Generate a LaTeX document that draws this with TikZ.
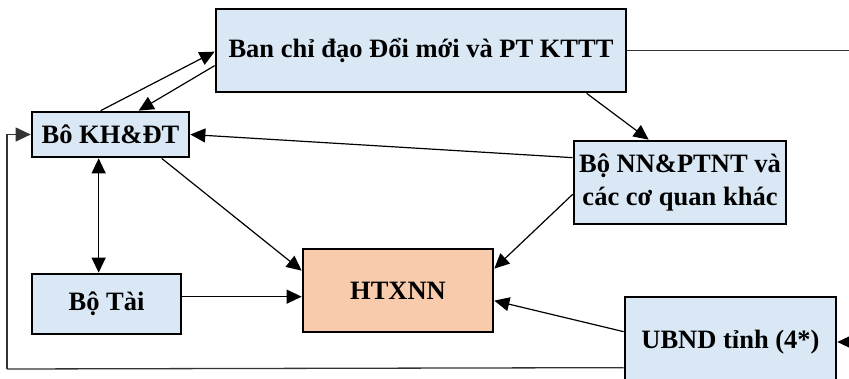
\documentclass[tikz,border=0pt]{standalone}
\usepackage{fontspec}
\setmainfont{Liberation Serif}
\usetikzlibrary{arrows.meta,calc}
\definecolor{boxblue}{RGB}{218,232,246}
\definecolor{boxpeach}{RGB}{248,203,173}
\begin{document}
\begin{tikzpicture}[x=1pt,y=-1pt,
  box/.style={draw=black,line width=2.7pt,fill=boxblue,inner sep=0pt,align=center,
    font=\fontsize{26.5}{33}\selectfont\bfseries},
  tip/.style={Triangle[length=15pt,width=14pt]},
  conn/.style={line width=1.2pt,-{Triangle[length=15pt,width=14pt]}},
  plain/.style={line width=1.3pt,draw=black!80}]
\useasboundingbox (0,0) rectangle (849,378);
\clip (0,0) rectangle (849,378);
\node[box,minimum width=410pt,minimum height=83pt] (ban) at (421,50.5) {Ban chỉ đạo Đổi mới và PT KTTT};
\node[box,minimum width=157pt,minimum height=45pt] (kh) at (110.5,134.5) {Bô KH\&ĐT};
\node[box,minimum width=212pt,minimum height=83pt] (nn) at (680,182.5) {Bộ NN\&PTNT và\\các cơ quan khác};
\node[box,fill=boxpeach,minimum width=190pt,minimum height=83pt] (htx) at (398,290.5) {HTXNN};
\node[box,minimum width=149pt,minimum height=60pt] (tai) at (106.5,304) {Bộ Tài};
\node[box,minimum width=211pt,minimum height=90pt] (ubnd) at (730.5,342) {UBND tỉnh (4*)};
\coordinate (rtop) at (880,50.5);
\coordinate (rbot) at (880,342);
\coordinate (lbot) at (7,369);
% connectors
\draw[conn] ($(kh.north west)+(70,0)$) -- ($(ban.north west)+(0,44)$);
\draw[conn] ($(ban.north west)+(0,58)$) -- ($(kh.north west)+(108,0)$);
\draw[conn] ($(nn.north west)+(0,18)$) -- (kh.east);
\draw[conn] ($(ban.south west)+(372,0)$) -- ($(nn.north west)+(76,0)$);
\draw[conn] ($(kh.south west)+(131,0)$) -- ($(htx.north west)+(0,23)$);
\draw[conn,{Triangle[length=15pt,width=14pt]}-{Triangle[length=15pt,width=14pt]}] ($(kh.south west)+(68,0)$) -- ($(tai.north west)+(68,0)$);
\draw[conn] ($(tai.north east)+(0,24)$) -- ($(htx.north west)+(0,49)$);
\draw[conn] ($(nn.south west)+(0,-31)$) -- ($(htx.north east)+(0,21)$);
\draw[conn] ($(ubnd.north west)+(0,36)$) -- ($(htx.north east)+(0,53)$);
\draw[plain] (ban.east) -- (rtop) -- (rbot);
\draw[conn] (rbot) -- (ubnd.east);
\draw[plain] ($(ubnd.north west)+(0,72)$) -- (lbot);
\draw[conn,draw=black!80] (lbot) |- (kh.west);
\end{tikzpicture}
\end{document}
